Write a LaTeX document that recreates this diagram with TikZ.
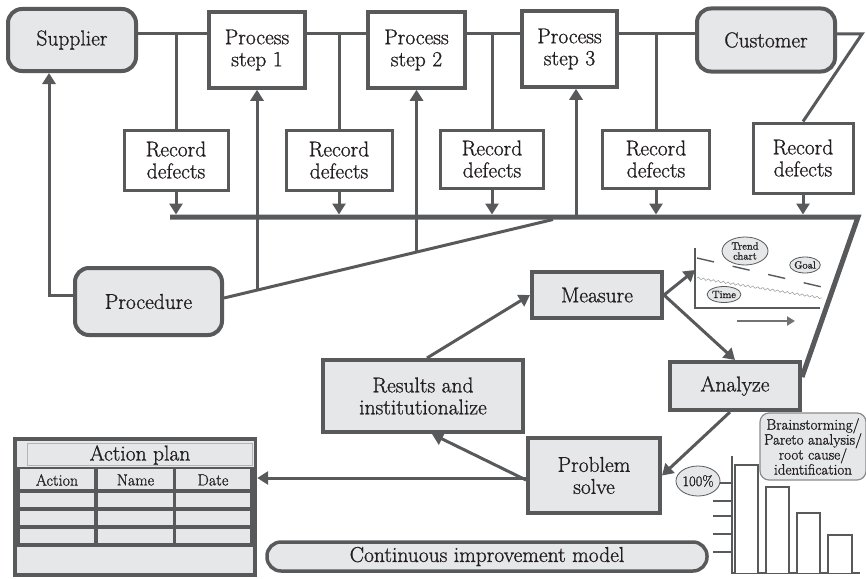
\documentclass[tikz,border=0pt]{standalone}
\usepackage{fontspec}
\setmainfont{Latin Modern Roman}[FakeBold=1]
\usetikzlibrary{arrows.meta,decorations.pathmorphing,shapes.geometric}
\definecolor{ink}{HTML}{58595B}
\definecolor{panel}{HTML}{E6E7E8}
\definecolor{txt}{HTML}{231F20}
\begin{document}
\begin{tikzpicture}[x=1pt,y=-1pt,
  every node/.style={text=txt, font=\fontsize{21.5}{22}\selectfont, align=center, inner sep=0pt},
  box/.style={draw=ink, line width=3.5pt, fill=white},
  gbox/.style={box, fill=panel, line width=4pt},
  rbox/.style={gbox, rounded corners=14pt},
  conn/.style={draw=ink, line width=3pt},
  arr/.style={conn, -{Triangle[width=13pt,length=11pt]}},
  bus/.style={draw=ink, line width=5pt, line join=miter},
  bubble/.style={ellipse, draw=ink, line width=0.8pt, fill=panel, font=\fontsize{10.5}{10}\selectfont},
  cell/.style={fill=panel},
  small/.style={font=\fontsize{16}{16}\selectfont}
]
\useasboundingbox (0,0) rectangle (866,578);

% ---- value stream: boxes ----
\node[rbox, minimum width=128pt, minimum height=62pt] (sup) at (72,40) {Supplier};
\node[box, minimum width=96pt, minimum height=76pt] (ps1) at (257,50) {Process\\step 1};
\node[box, minimum width=97pt, minimum height=76pt] (ps2) at (416.5,50) {Process\\step 2};
\node[box, minimum width=95pt, minimum height=76pt] (ps3) at (569.5,49) {Process\\step 3};
\node[rbox, minimum width=138pt, minimum height=63pt] (cus) at (766,40) {Customer};

\node[box, line width=3pt, minimum width=104pt, minimum height=60pt] (rd1) at (176,160) {Record\\defects};
\node[box, line width=3pt, minimum width=106pt, minimum height=60pt] (rd2) at (339,160) {Record\\defects};
\node[box, line width=3pt, minimum width=103pt, minimum height=58pt] (rd3) at (492,159) {Record\\defects};
\node[box, line width=3pt, minimum width=107pt, minimum height=58pt] (rd4) at (656,159) {Record\\defects};
\node[box, line width=3pt, minimum width=100pt, minimum height=70pt] (rd5) at (803,158) {Record\\defects};

\node[rbox, minimum width=147pt, minimum height=67pt] (proc) at (148.5,301.5) {Procedure};

% ---- improvement cycle ----
\node[gbox, minimum width=130pt, minimum height=46pt] (meas) at (597,295) {Measure};
\node[gbox, minimum width=130pt, minimum height=48pt] (ana) at (735,386) {Analyze};
\node[gbox, minimum width=200pt, minimum height=72pt] (res) at (423,396) {Results and\\institutionalize};
\node[gbox, minimum width=132pt, minimum height=75pt] (prob) at (594,475.5) {Problem\\solve};

% ---- value stream: connectors ----
\coordinate (tl) at (0,34);
\coordinate (cr) at (862,34);
\draw[conn] (sup.east |- tl) -- (ps1.west |- tl);
\draw[conn] (ps1.east |- tl) -- (ps2.west |- tl);
\draw[conn] (ps2.east |- tl) -- (ps3.west |- tl);
\draw[conn] (ps3.east |- tl) -- (cus.west |- tl);
\draw[conn, line join=miter] (cus.east |- tl) -- (cr) -- (rd5.north);
\foreach \r in {rd1,rd2,rd3,rd4} \draw[conn] (\r.north |- tl) -- (\r.north);

% defect bus and its return to Analyze
\coordinate (bl) at (170,217);
\coordinate (br) at (858,217);
\coordinate (bt) at (0,214.5);
\draw[bus] (bl) -- (br) -- ([yshift=9pt]ana.east);
\foreach \r in {rd1,rd2,rd3,rd4,rd5} \draw[arr] (\r.south) -- (\r.south |- bt);

% procedure feeds the process steps and the supplier
\coordinate (dj) at (553,219.5);
\coordinate (d1) at (257,289.6);
\coordinate (d2) at (416.5,251.5);
\coordinate (u3) at (576,217);
\coordinate (sl) at (49,295);
\draw[conn] ([yshift=3.5pt]proc.east) -- (dj);
\draw[arr] (d1) -- (ps1.south);
\draw[arr] (d2) -- (ps2.south);
\draw[arr] (u3) -- (u3 |- ps3.south);
\draw[arr, line join=miter] (proc.west |- sl) -- (sl) -- (sl |- sup.south);

% ---- cycle arrows ----
\coordinate (ta) at (695,270);
\draw[arr] ([xshift=4pt]res.north) -- (meas.west);
\draw[arr] (meas.east) -- (ta);
\draw[arr] (meas.east) -- (ana.north);
\draw[arr] ([xshift=-5pt]ana.south) -- (prob.east);
\draw[arr] ([yshift=-4.5pt]prob.west) -- ([xshift=9pt]res.south);

% ---- action plan table ----
\node[minimum width=244pt, minimum height=140pt] (ap) at (135,507) {};
\coordinate (pw) at ([yshift=-2.5pt]prob.west);
\draw[arr] (pw) -- (pw -| ap.east);
\fill[ink] (ap.north west) rectangle (ap.south east);
\fill[cell] (17,441) rectangle (254,467);
\draw[ink!45, line width=1pt] (27,443.5) rectangle (252,465.5);
\node (aptitle) at (140,455) {Action plan};
\foreach \xa/\xb in {20/94,98/173,176/250} {
  \foreach \ya/\yb in {469/489,493/507,511/525,529/543}
    \fill[cell] (\xa,\ya) rectangle (\xb,\yb);
}
\node[small] (hA) at (57,480) {Action};
\node[small] (hN) at (135.5,480) {Name};
\node[small] (hD) at (213,480) {Date};
\fill[cell] (17,547) rectangle (253,573);

% ---- model banner ----
\node[draw=ink, line width=3.5pt, fill=panel, rounded corners=14pt,
      minimum width=440pt, minimum height=29pt] (cim) at (487,556.5) {Continuous improvement model};

% ---- trend chart ----
\coordinate (ax0) at (695,308);
\draw[ink, line width=2pt] (695,248) -- (ax0) -- (820,308);
\draw[ink, line width=1.4pt, dash pattern=on 17.5pt off 19pt] (697,258) -- (822,287);
\draw[ink!55, line width=0.6pt, decorate, decoration={snake, amplitude=1pt, segment length=5pt}] (697,278) -- (822,298);
\draw[ink!85, line width=2.2pt, -{Triangle[width=9pt,length=8pt]}] (737,321) -- (795,321);
\node[bubble, minimum width=46pt, minimum height=28pt] (tc) at (745,251) {Trend\\chart};
\node[bubble, minimum width=29pt, minimum height=16pt] (goal) at (805,265) {Goal};
\node[bubble, minimum width=32pt, minimum height=16pt] (time) at (724,294.5) {Time};

% ---- pareto chart ----
\draw[ink, line width=2.5pt] (732,456) -- (732,573) -- (860,573);
\foreach \ty in {483,501,516,534,552} \draw[ink, line width=2.5pt] (713,\ty) -- (732,\ty);
\draw[ink, line width=2.5pt, fill=white] (735,573) -- (735,465) -- (758,465) -- (758,573);
\draw[ink, line width=2.5pt, fill=white] (766,573) -- (766,487) -- (789,487) -- (789,573);
\draw[ink, line width=2.5pt, fill=white] (797,573) -- (797,513) -- (820,513) -- (820,573);
\draw[ink, line width=2.5pt, fill=white] (828,573) -- (828,535) -- (852,535) -- (852,573);
\node[bubble, font=\fontsize{14.5}{14}\selectfont, minimum width=40pt, minimum height=30pt] (pct) at (698,481) {100\%};
\node[draw=ink!70, line width=1.2pt, fill=panel, rounded corners=9pt,
      minimum width=106pt, minimum height=67pt, font=\fontsize{15}{15}\selectfont] (bs) at (813,446.5)
      {Brainstorming/\\Pareto analysis/\\root cause/\\identification};
\end{tikzpicture}
\end{document}
